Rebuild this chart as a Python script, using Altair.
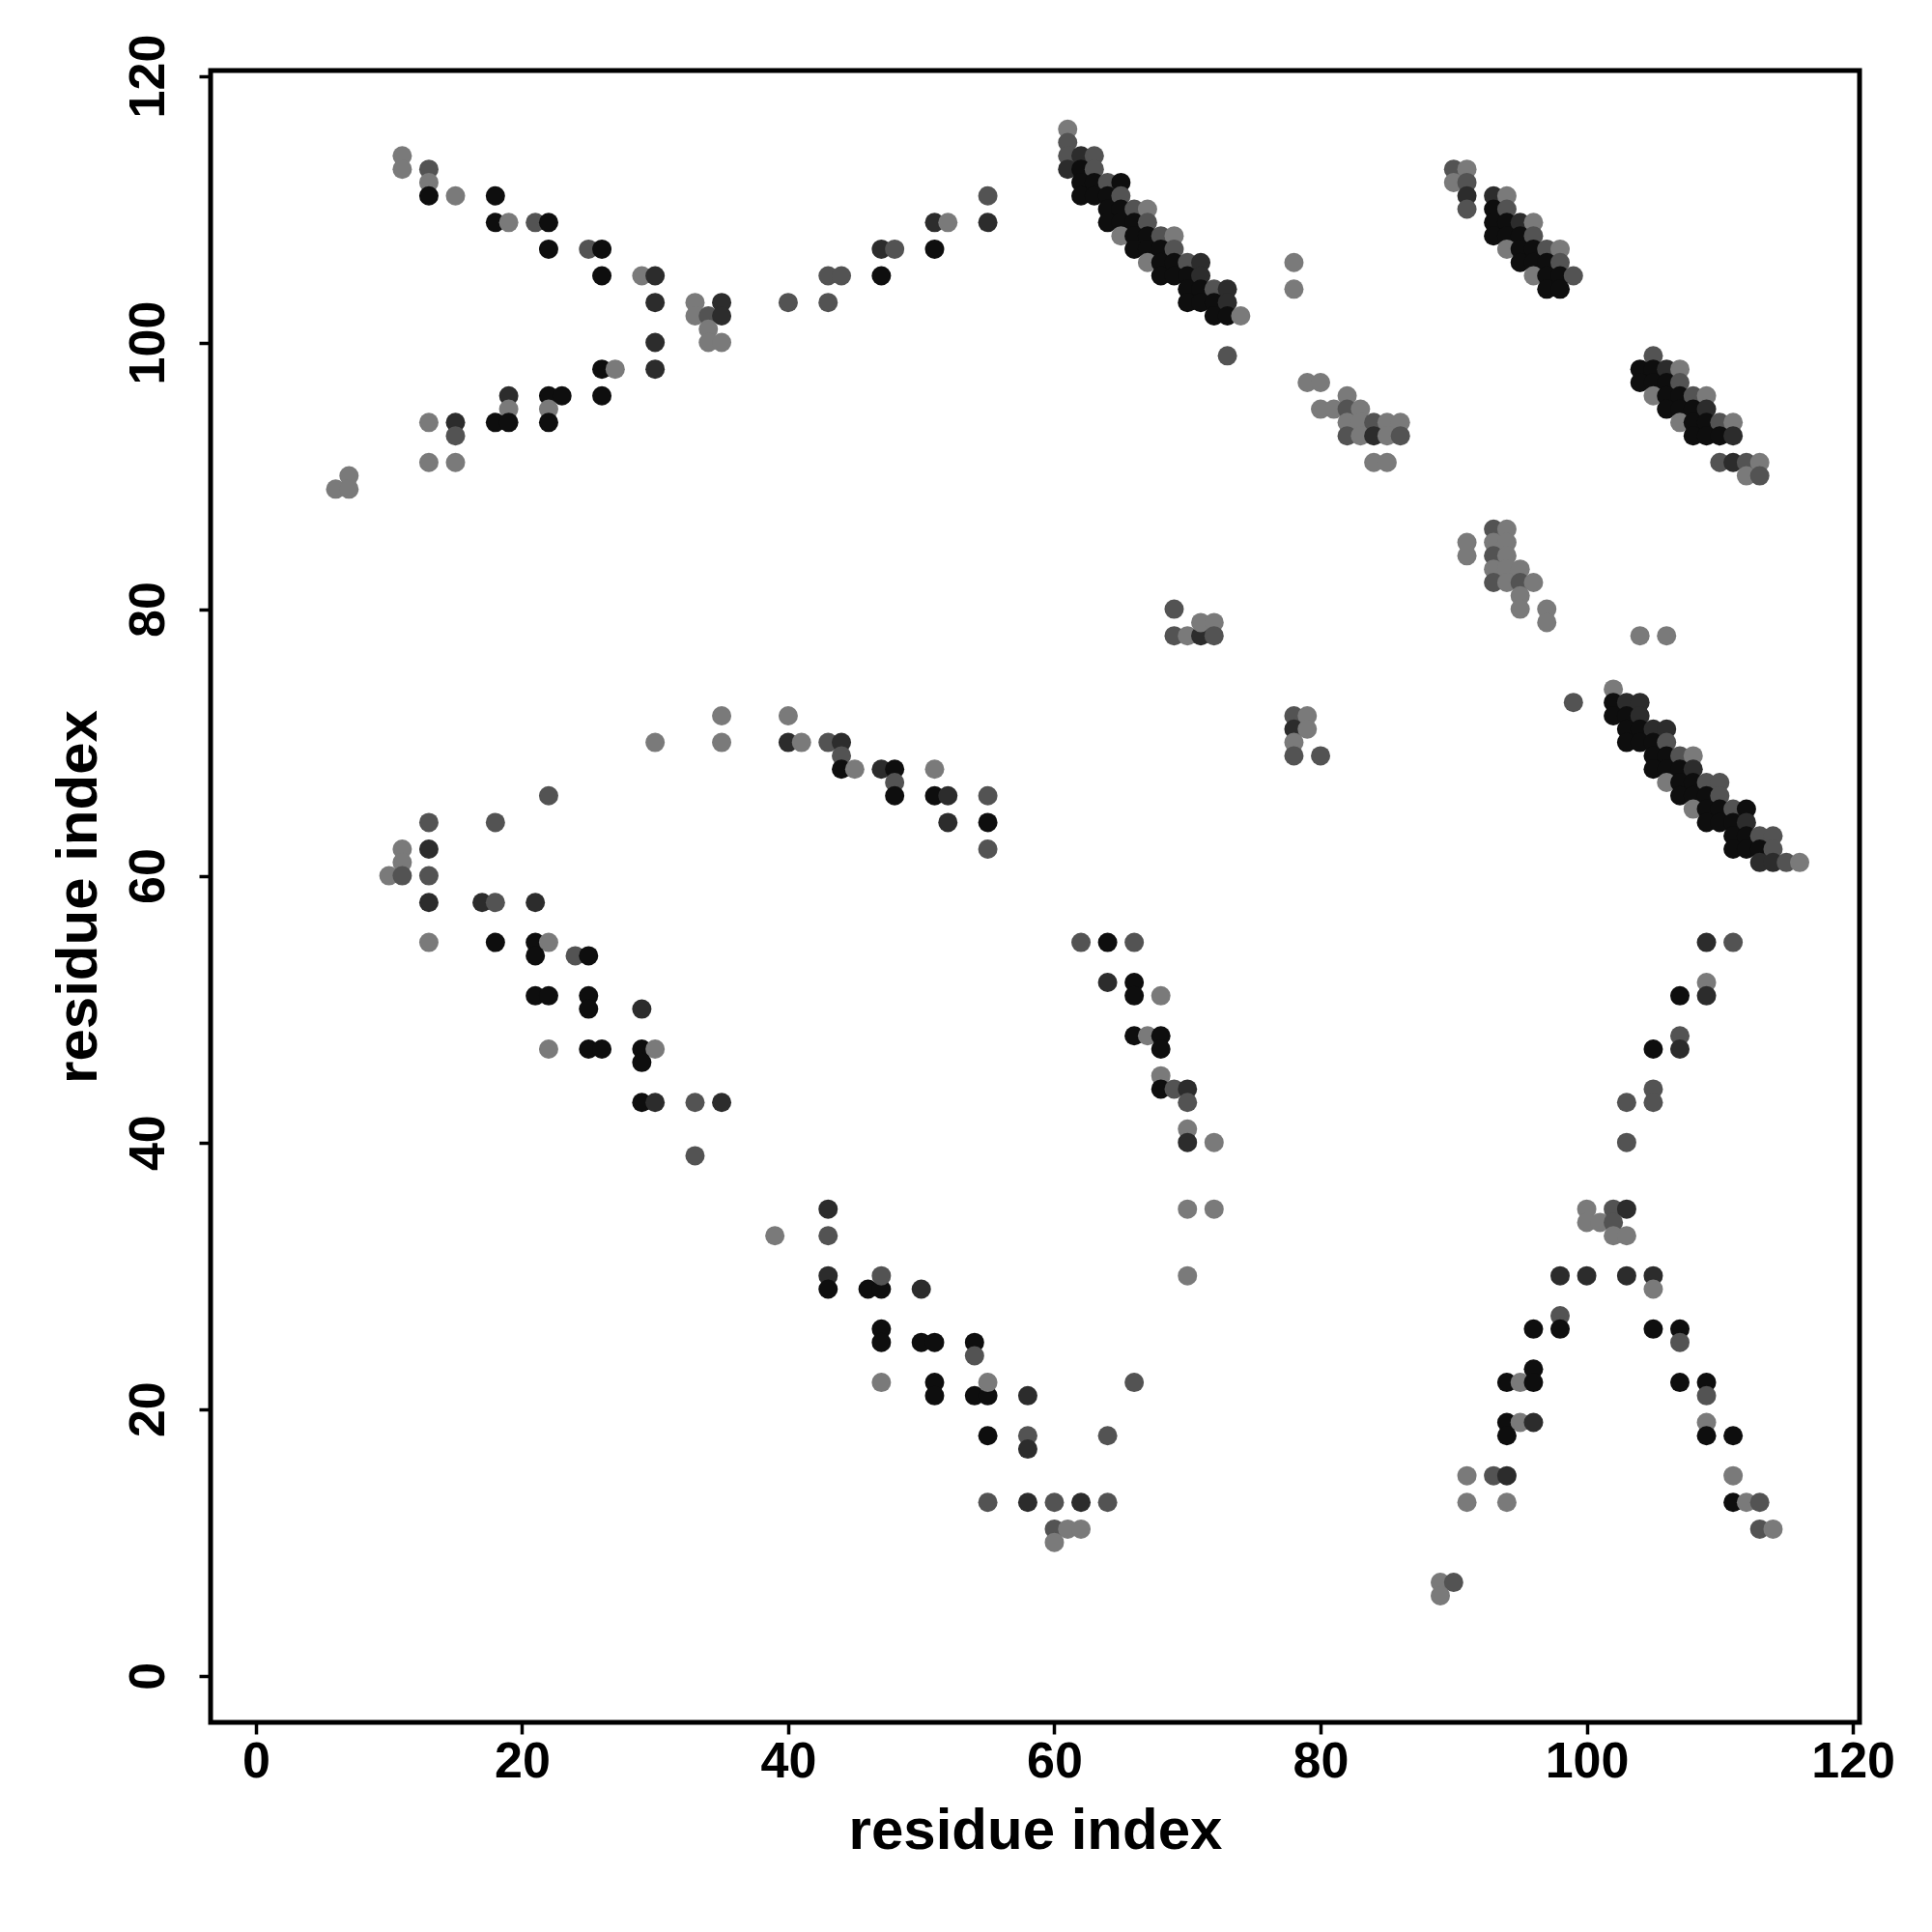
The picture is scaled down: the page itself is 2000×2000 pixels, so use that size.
import altair as alt
import pandas as pd

# shade levels (contact probability-like weights)
G, M, D, K = 0.10, 0.38, 0.68, 0.93

pts = [
    # upper-left arms
    (11,114,G),(11,113,G),(13,113,M),(13,112,G),(13,111,K),(15,111,G),(18,111,K),(18,109,K),(19,109,G),(21,109,M),
    (22,109,K),(22,107,K),(25,107,M),(26,107,K),(26,105,K),(29,105,G),(30,105,D),(30,103,D),(33,103,G),(35,103,D),
    (33,102,G),(34,102,M),(35,102,D),(34,101,G),(34,100,G),(35,100,G),(30,100,D),(30,98,D),(26,98,K),(27,98,G),
    (26,96,K),(22,96,K),(23,96,K),(19,96,D),(19,95,G),(22,95,G),(18,94,K),(19,94,K),(22,94,K),(15,94,D),
    (13,94,G),(15,93,M),(13,91,G),(15,91,G),(7,90,G),(6,89,G),(7,89,G),
    (40,103,M),(43,103,M),(43,105,M),(44,105,M),(47,105,K),(47,107,D),(48,107,M),(51,107,K),(51,109,D),(52,109,G),
    (55,109,D),(55,111,M),
    # diagonal band 61-74
    (61,116,G),(61,115,M),(61,114,M),(62,114,D),(63,114,M),(61,113,D),(62,113,K),(63,113,M),(62,112,K),(63,112,K),
    (64,112,M),(65,112,K),(62,111,K),(63,111,K),(64,111,K),(65,111,M),(64,110,K),(65,110,K),(66,110,M),(67,110,G),
    (64,109,K),(65,109,K),(66,109,K),(67,109,M),(65,108,G),(66,108,K),(67,108,K),(68,108,M),(69,108,G),(66,107,K),
    (67,107,K),(68,107,K),(69,107,M),(67,106,G),(68,106,K),(69,106,K),(70,106,M),(71,106,D),(68,105,K),(69,105,K),
    (70,105,K),(71,105,D),(70,104,K),(71,104,K),(72,104,M),(73,104,D),(70,103,K),(71,103,K),(72,103,K),(73,103,D),
    (72,102,K),(73,102,K),(74,102,G),(73,99,M),
    (78,106,G),(78,104,G),(79,97,G),(80,97,G),(80,95,G),
    (81,95,G),(82,96,G),(82,95,M),(83,95,G),(82,94,G),(83,94,G),(84,94,M),(85,94,G),(86,94,G),(82,93,M),
    (83,93,G),(84,93,D),(85,93,G),(86,93,M),(84,91,G),(85,91,G),
    # band 90-99
    (90,113,M),(91,113,G),(90,112,G),(91,112,M),(91,111,D),(91,110,M),(93,111,D),(94,111,G),(93,110,K),(94,110,M),
    (93,109,K),(94,109,K),(95,109,D),(96,109,G),(93,108,K),(94,108,K),(95,108,K),(96,108,M),(94,107,G),(95,107,K),
    (96,107,K),(97,107,M),(98,107,G),(95,106,K),(96,106,K),(97,106,K),(98,106,M),(96,105,G),(97,105,K),(98,105,K),
    (99,105,M),(97,104,K),(98,104,K),
    # band 104-113
    (105,99,M),(104,98,K),(105,98,K),(106,98,D),(107,98,G),(104,97,K),(105,97,K),(106,97,K),(107,97,M),(105,96,G),
    (106,96,K),(107,96,K),(108,96,M),(109,96,G),(106,95,K),(107,95,K),(108,95,K),(109,95,D),(107,94,G),(108,94,K),
    (109,94,K),(110,94,M),(111,94,G),(108,93,K),(109,93,K),(110,93,K),(111,93,D),(110,91,M),(111,91,D),(112,91,M),
    (113,91,G),(112,90,G),(113,90,M),
    # middle-left
    (35,72,G),(30,70,G),(35,70,G),(22,66,M),(13,64,M),(18,64,M),(11,62,G),(13,62,D),(11,61,G),(10,60,G),
    (11,60,M),(13,60,M),(13,58,D),(17,58,D),(18,58,M),(21,58,D),
    (40,72,G),(40,70,D),(41,70,G),(43,70,M),(44,70,D),(44,69,M),(44,68,K),(45,68,G),(47,68,D),(48,68,K),
    (48,67,M),(48,66,K),(51,68,G),(51,66,K),(52,66,D),(52,64,D),(55,66,M),(55,64,K),(55,62,M),
    (69,80,M),(69,78,M),(70,78,G),(71,78,D),(71,79,G),(72,79,G),(72,78,M),
    (78,72,M),(79,72,G),(78,71,D),(79,71,G),(78,70,G),(78,69,M),(80,69,M),
    (91,85,G),(91,84,G),(93,86,M),(94,86,G),(93,85,G),(94,85,G),(93,84,M),(94,84,G),(93,83,G),(94,83,G),
    (95,83,G),(93,82,M),(94,82,G),(95,82,M),(96,82,G),(95,81,G),(95,80,G),(97,80,G),(97,79,G),(104,78,G),
    (106,78,G),
    # band 102-116
    (99,73,M),(102,74,G),(102,73,K),(103,73,D),(104,73,D),(102,72,K),(103,72,K),(104,72,D),(103,71,K),(104,71,K),
    (105,71,D),(106,71,D),(103,70,K),(104,70,K),(105,70,K),(106,70,M),(105,69,K),(106,69,K),(107,69,M),(108,69,G),
    (105,68,K),(106,68,K),(107,68,K),(108,68,D),(106,67,G),(107,67,K),(108,67,K),(109,67,M),(110,67,M),(107,66,K),
    (108,66,K),(109,66,K),(110,66,M),(108,65,G),(109,65,K),(110,65,K),(111,65,M),(112,65,K),(109,64,K),(110,64,K),
    (111,64,K),(112,64,D),(111,63,K),(112,63,K),(113,63,M),(114,63,M),(111,62,K),(112,62,K),(113,62,K),(114,62,M),
    (113,61,D),(114,61,D),(115,61,M),(116,61,G),
    # lower-left arm
    (13,55,G),(18,55,K),(21,55,K),(22,55,G),(21,54,K),(24,54,M),(25,54,K),(21,51,K),(22,51,K),(25,51,K),
    (25,50,K),(29,50,D),(22,47,G),(25,47,K),(26,47,K),(29,47,K),(30,47,G),(29,46,K),(29,43,K),(30,43,D),
    (33,43,M),(35,43,D),(33,39,M),(39,33,G),
    (43,35,D),(43,33,M),(43,30,D),(43,29,K),(46,29,K),(47,29,K),(47,30,M),(50,29,D),(47,26,K),(47,25,K),
    (50,25,K),(51,25,K),(54,25,K),(54,24,M),(47,22,G),(51,22,K),(51,21,K),(54,21,K),(55,21,K),(55,22,G),
    (58,21,D),(66,22,M),(55,18,K),(58,18,M),(58,17,D),(64,18,M),(55,13,M),(58,13,D),(60,13,M),(62,13,D),
    (64,13,M),(60,11,M),(61,11,G),(62,11,G),(60,10,G),
    (62,55,M),(64,55,K),(66,55,M),(64,52,D),(66,52,K),(66,51,K),(68,51,G),(66,48,K),(67,48,G),(68,48,K),
    (68,47,K),(68,45,G),(68,44,K),(69,44,M),(70,44,D),(70,43,M),(70,41,G),(70,40,D),(72,40,G),(70,35,G),
    (72,35,G),(70,30,G),
    # lower-right
    (109,55,D),(111,55,M),(109,52,G),(109,51,D),(107,51,K),(107,48,M),(107,47,D),(105,47,K),(105,44,M),(105,43,M),
    (103,43,M),(103,40,M),(100,35,G),(102,35,M),(103,35,D),(100,34,G),(101,34,G),(102,34,M),(102,33,G),(103,33,G),
    (98,30,D),(100,30,D),(103,30,D),(105,30,D),(105,29,G),(98,27,M),(96,26,K),(98,26,K),(105,26,K),(107,26,K),
    (107,25,M),(96,23,K),(94,22,K),(95,22,G),(96,22,K),(107,22,K),(109,22,K),(109,21,M),(94,19,K),(95,19,G),
    (96,19,D),(94,18,K),(109,19,G),(109,18,K),(111,18,K),(91,15,G),(93,15,M),(94,15,D),(91,13,G),(94,13,G),
    (111,15,G),(111,13,K),(112,13,G),(113,13,M),(113,11,M),(114,11,G),(89,7,G),(90,7,M),(89,6,G),
]

res_i = [p[0] for p in pts]
res_j = [p[1] for p in pts]
weight = [p[2] for p in pts]

tick_values = [0, 20, 40, 60, 80, 100, 120]

df = pd.DataFrame({"i": res_i, "j": res_j, "w": weight})

FONT = "Liberation Sans"

chart = alt.Chart(df).mark_point(shape="circle", filled=True, size=400, opacity=1, strokeWidth=0).encode(
    x=alt.X("i:Q",
            scale=alt.Scale(domain=[-3.4, 120.5], nice=False, zero=False),
            axis=alt.Axis(values=tick_values, title="residue index", grid=False, domain=False,
                          tickColor="black", tickWidth=3.5, tickSize=12,
                          labelFont=FONT, labelFontWeight="bold", labelFontSize=52, labelColor="black",
                          labelBaseline="alphabetic", labelPadding=44, labelFlush=False, labelOverlap=False,
                          titleFont=FONT, titleFontWeight="bold", titleFontSize=60, titleColor="black",
                          titleBaseline="alphabetic", titleY=130)),
    y=alt.Y("j:Q",
            scale=alt.Scale(domain=[-3.5, 120.4], nice=False, zero=False),
            axis=alt.Axis(values=tick_values, title="residue index", grid=False, domain=False,
                          tickColor="black", tickWidth=3.5, tickSize=12,
                          labelFont=FONT, labelFontWeight="bold", labelFontSize=52, labelColor="black",
                          labelAngle=270, labelAlign="center", labelBaseline="alphabetic",
                          labelPadding=37, labelFlush=False, labelOverlap=False,
                          titleFont=FONT, titleFontWeight="bold", titleFontSize=60, titleColor="black",
                          titleAngle=270, titleBaseline="alphabetic", titleX=-118.5)),
    color=alt.Color("w:Q", scale=alt.Scale(domain=[0, 1], range=["#888888", "#000000"]), legend=None),
).properties(
    width=1707, height=1710,
    padding={"left": 210, "top": 65, "right": 40, "bottom": 180},
    autosize="none",
).configure_view(stroke="black", strokeWidth=5)

chart.save("out.html", embed_options={"renderer": "svg", "actions": False})
